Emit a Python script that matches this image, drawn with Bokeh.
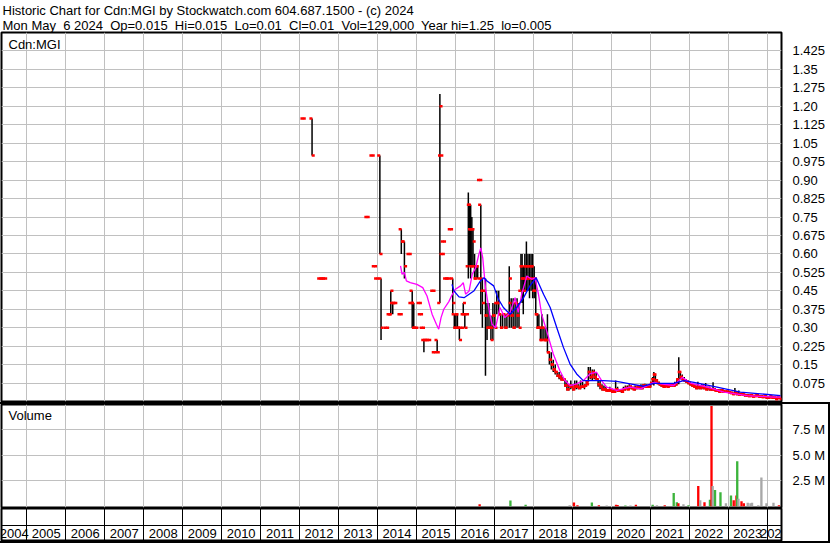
from bokeh.plotting import figure
from bokeh.models import Range1d, FixedTicker, Title, Label, ColumnDataSource
from bokeh.layouts import column
from bokeh.embed import file_html
from bokeh.resources import INLINE
from bokeh.core.properties import value

# ---------------- data ----------------
header_line1 = "Historic Chart for Cdn:MGI by Stockwatch.com 604.687.1500 - (c) 2024"
header_line2 = ("Mon May\u00a0 6 2024\u00a0 Op=0.015\u00a0 Hi=0.015\u00a0 Lo=0.01\u00a0 Cl=0.01"
                "\u00a0 Vol=129,000\u00a0 Year hi=1.25\u00a0 lo=0.005")
symbol = "Cdn:MGI"

years = list(range(2004, 2025))
year_lines = list(range(2005, 2025))

price_ticks = [0.075, 0.15, 0.225, 0.3, 0.375, 0.45, 0.525, 0.6, 0.675, 0.75,
               0.825, 0.9, 0.975, 1.05, 1.125, 1.2, 1.275, 1.35, 1.425]
price_labels = ["0.075", "0.15", "0.225", "0.30", "0.375", "0.45", "0.525", "0.60", "0.675", "0.75",
                "0.825", "0.90", "0.975", "1.05", "1.125", "1.20", "1.275", "1.35", "1.425"]
vol_ticks = [2.5e6, 5.0e6, 7.5e6]
vol_labels = ["2.5 M", "5.0 M", "7.5 M"]

bar_t = [
    2012.09, 2012.32, 2012.52, 2012.58, 2012.64, 2013.73, 2013.86, 2013.92, 2013.98,
    2014.06, 2014.09, 2014.23, 2014.30, 2014.34, 2014.39, 2014.44, 2014.58, 2014.61, 2014.69, 2014.81, 2014.86, 2014.89, 2014.93, 2014.98,
    2015.07, 2015.10, 2015.15, 2015.19, 2015.24, 2015.31, 2015.42, 2015.46, 2015.53, 2015.60, 2015.62, 2015.66, 2015.69, 2015.75, 2015.81, 2015.87, 2015.93, 2015.97,
    2016.01, 2016.05, 2016.10, 2016.15, 2016.20, 2016.24, 2016.28, 2016.33, 2016.36, 2016.39, 2016.42, 2016.45, 2016.49, 2016.53, 2016.57, 2016.62, 2016.65, 2016.69, 2016.77, 2016.81, 2016.86, 2016.91, 2016.96,
    2017.01, 2017.06, 2017.11, 2017.16, 2017.21, 2017.27, 2017.32, 2017.38, 2017.43, 2017.48, 2017.53, 2017.58, 2017.63, 2017.68, 2017.71, 2017.74, 2017.78, 2017.82, 2017.86, 2017.90, 2017.94, 2017.98,
    2018.02, 2018.06, 2018.10, 2018.14, 2018.18, 2018.22, 2018.27, 2018.32, 2018.36, 2018.41, 2018.46, 2018.51, 2018.56, 2018.61, 2018.66, 2018.71, 2018.76, 2018.81, 2018.86, 2018.91, 2018.96,
    2019.01, 2019.06, 2019.11, 2019.16, 2019.21, 2019.26, 2019.31, 2019.36, 2019.41, 2019.46, 2019.51, 2019.56, 2019.61, 2019.66, 2019.71, 2019.76, 2019.81, 2019.86, 2019.91, 2019.96,
    2020.01, 2020.06, 2020.11, 2020.16, 2020.21, 2020.26, 2020.31, 2020.36, 2020.41, 2020.46, 2020.51, 2020.56, 2020.61, 2020.66, 2020.71, 2020.76, 2020.81, 2020.86, 2020.91, 2020.96,
    2021.01, 2021.06, 2021.09, 2021.13, 2021.18, 2021.23, 2021.28, 2021.33, 2021.38, 2021.43, 2021.48, 2021.53, 2021.58, 2021.63, 2021.68, 2021.73, 2021.77, 2021.82, 2021.87, 2021.92, 2021.97,
    2022.02, 2022.07, 2022.12, 2022.17, 2022.22, 2022.27, 2022.32, 2022.37, 2022.42, 2022.47, 2022.52, 2022.57, 2022.61, 2022.66, 2022.71, 2022.76, 2022.81, 2022.86, 2022.91, 2022.96,
    2023.01, 2023.06, 2023.11, 2023.17, 2023.22, 2023.27, 2023.32, 2023.37, 2023.42, 2023.47, 2023.52, 2023.57, 2023.62, 2023.67, 2023.72, 2023.77, 2023.82, 2023.87, 2023.92, 2023.97,
    2024.02, 2024.07, 2024.12, 2024.17, 2024.22, 2024.27, 2024.32,
]
bar_open = [
    1.15, 1.15, 0.50, 0.50, 0.50, 0.75, 1.00, 0.55, 0.50,
    1.00, 0.50, 0.30, 0.355, 0.355, 0.40, 0.40, 0.355, 0.70, 0.65, 0.60, 0.40, 0.45, 0.40, 0.30,
    0.40, 0.355, 0.30, 0.25, 0.25, 0.25, 0.45, 0.20, 0.25, 0.40, 1.00, 0.60, 0.65, 0.50, 0.50, 0.70, 0.50, 0.355,
    0.30, 0.355, 0.30, 0.30, 0.355, 0.355, 0.355, 0.55, 0.80, 0.70, 0.55, 0.70, 0.55, 0.50, 0.55, 0.90, 0.80, 0.50, 0.45, 0.35, 0.30, 0.30, 0.30,
    0.35, 0.40, 0.40, 0.355, 0.30, 0.355, 0.30, 0.35, 0.40, 0.35, 0.30, 0.40, 0.35, 0.45, 0.55, 0.50, 0.50, 0.55, 0.50, 0.55, 0.50, 0.55,
    0.50, 0.45, 0.355, 0.30, 0.30, 0.25, 0.30, 0.25, 0.25, 0.20, 0.17, 0.15, 0.13, 0.12, 0.105, 0.10, 0.09, 0.09, 0.065, 0.05, 0.065,
    0.06, 0.05, 0.06, 0.06, 0.055, 0.06, 0.06, 0.065, 0.08, 0.12, 0.10, 0.11, 0.10, 0.09, 0.07, 0.06, 0.05, 0.05, 0.045, 0.045,
    0.045, 0.04, 0.045, 0.05, 0.045, 0.045, 0.045, 0.05, 0.055, 0.05, 0.06, 0.055, 0.05, 0.055, 0.06, 0.06, 0.055, 0.065, 0.06, 0.06,
    0.06, 0.075, 0.09, 0.11, 0.085, 0.075, 0.07, 0.065, 0.06, 0.065, 0.06, 0.065, 0.07, 0.065, 0.07, 0.09, 0.12, 0.10, 0.09, 0.085, 0.08,
    0.075, 0.07, 0.065, 0.06, 0.055, 0.06, 0.055, 0.06, 0.055, 0.05, 0.055, 0.05, 0.05, 0.05, 0.045, 0.045, 0.04, 0.045, 0.04, 0.04,
    0.04, 0.038, 0.035, 0.03, 0.035, 0.03, 0.028, 0.03, 0.028, 0.025, 0.025, 0.022, 0.025, 0.02, 0.022, 0.025, 0.02, 0.02, 0.018, 0.02,
    0.015, 0.015, 0.02, 0.015, 0.015, 0.01, 0.015,
]
bar_high = [
    1.15, 1.15, 0.50, 0.50, 0.50, 0.75, 1.00, 0.55, 0.50,
    1.00, 0.50, 0.30, 0.355, 0.45, 0.40, 0.40, 0.355, 0.70, 0.65, 0.60, 0.40, 0.45, 0.40, 0.30,
    0.40, 0.355, 0.30, 0.25, 0.25, 0.25, 0.45, 0.20, 0.25, 1.25, 1.00, 0.60, 0.65, 0.50, 0.50, 0.70, 0.50, 0.355,
    0.355, 0.355, 0.30, 0.30, 0.40, 0.355, 0.355, 0.85, 0.80, 0.80, 0.75, 0.70, 0.60, 0.55, 0.55, 0.90, 0.80, 0.50, 0.50, 0.40, 0.40, 0.35, 0.40,
    0.40, 0.45, 0.45, 0.355, 0.355, 0.355, 0.355, 0.55, 0.42, 0.42, 0.40, 0.42, 0.40, 0.60, 0.60, 0.55, 0.60, 0.65, 0.60, 0.60, 0.60, 0.60,
    0.55, 0.50, 0.355, 0.355, 0.30, 0.355, 0.30, 0.30, 0.355, 0.20, 0.20, 0.17, 0.15, 0.12, 0.12, 0.11, 0.10, 0.09, 0.085, 0.07, 0.085,
    0.07, 0.085, 0.085, 0.07, 0.085, 0.08, 0.07, 0.085, 0.14, 0.14, 0.13, 0.13, 0.12, 0.09, 0.085, 0.07, 0.065, 0.06, 0.05, 0.06,
    0.05, 0.05, 0.085, 0.06, 0.05, 0.05, 0.06, 0.065, 0.065, 0.07, 0.065, 0.06, 0.065, 0.06, 0.065, 0.07, 0.07, 0.072, 0.07, 0.065,
    0.08, 0.10, 0.12, 0.11, 0.09, 0.08, 0.075, 0.072, 0.07, 0.075, 0.07, 0.075, 0.072, 0.08, 0.09, 0.18, 0.12, 0.11, 0.10, 0.09, 0.085,
    0.08, 0.075, 0.07, 0.065, 0.08, 0.065, 0.07, 0.065, 0.075, 0.06, 0.06, 0.055, 0.078, 0.055, 0.05, 0.05, 0.05, 0.05, 0.045, 0.045,
    0.045, 0.04, 0.04, 0.055, 0.04, 0.045, 0.035, 0.035, 0.03, 0.03, 0.03, 0.03, 0.03, 0.025, 0.03, 0.03, 0.025, 0.025, 0.02, 0.025,
    0.02, 0.02, 0.02, 0.02, 0.02, 0.02, 0.015,
]
bar_low = [
    1.15, 1.00, 0.50, 0.50, 0.50, 0.75, 1.00, 0.55, 0.50,
    0.60, 0.25, 0.30, 0.355, 0.355, 0.355, 0.40, 0.355, 0.60, 0.50, 0.60, 0.40, 0.30, 0.30, 0.30,
    0.40, 0.355, 0.30, 0.20, 0.25, 0.25, 0.45, 0.20, 0.20, 0.40, 1.00, 0.60, 0.65, 0.50, 0.50, 0.70, 0.355, 0.30,
    0.30, 0.30, 0.25, 0.30, 0.355, 0.30, 0.355, 0.50, 0.55, 0.50, 0.55, 0.55, 0.50, 0.50, 0.50, 0.90, 0.355, 0.30, 0.105, 0.25, 0.30, 0.25, 0.25,
    0.30, 0.355, 0.355, 0.30, 0.30, 0.30, 0.30, 0.30, 0.30, 0.30, 0.30, 0.30, 0.30, 0.45, 0.40, 0.355, 0.45, 0.45, 0.45, 0.42, 0.45, 0.42,
    0.42, 0.355, 0.30, 0.30, 0.25, 0.25, 0.25, 0.25, 0.20, 0.15, 0.13, 0.12, 0.11, 0.10, 0.09, 0.085, 0.085, 0.06, 0.045, 0.045, 0.05,
    0.045, 0.05, 0.05, 0.05, 0.05, 0.055, 0.05, 0.06, 0.08, 0.09, 0.085, 0.09, 0.085, 0.06, 0.05, 0.045, 0.045, 0.045, 0.04, 0.04,
    0.04, 0.035, 0.04, 0.04, 0.04, 0.035, 0.045, 0.045, 0.05, 0.05, 0.05, 0.05, 0.045, 0.05, 0.05, 0.05, 0.05, 0.055, 0.055, 0.055,
    0.06, 0.07, 0.065, 0.08, 0.07, 0.065, 0.06, 0.058, 0.058, 0.06, 0.058, 0.06, 0.06, 0.06, 0.065, 0.07, 0.09, 0.085, 0.08, 0.075, 0.07,
    0.065, 0.06, 0.058, 0.05, 0.05, 0.05, 0.05, 0.05, 0.05, 0.045, 0.045, 0.045, 0.045, 0.045, 0.04, 0.04, 0.038, 0.04, 0.035, 0.038,
    0.035, 0.03, 0.03, 0.03, 0.025, 0.025, 0.025, 0.025, 0.02, 0.02, 0.02, 0.02, 0.02, 0.018, 0.02, 0.02, 0.015, 0.015, 0.015, 0.015,
    0.01, 0.015, 0.015, 0.01, 0.01, 0.01, 0.01,
]
bar_close = [
    1.15, 1.00, 0.50, 0.50, 0.50, 0.75, 1.00, 0.55, 0.50,
    0.60, 0.30, 0.30, 0.355, 0.45, 0.40, 0.40, 0.355, 0.65, 0.55, 0.60, 0.40, 0.30, 0.30, 0.30,
    0.40, 0.355, 0.30, 0.25, 0.25, 0.25, 0.45, 0.20, 0.20, 1.20, 1.00, 0.60, 0.65, 0.50, 0.50, 0.70, 0.40, 0.30,
    0.355, 0.30, 0.25, 0.30, 0.40, 0.30, 0.355, 0.80, 0.70, 0.55, 0.70, 0.65, 0.50, 0.55, 0.50, 0.90, 0.45, 0.40, 0.35, 0.30, 0.30, 0.25, 0.35,
    0.30, 0.40, 0.355, 0.30, 0.355, 0.30, 0.355, 0.50, 0.35, 0.30, 0.40, 0.35, 0.30, 0.55, 0.50, 0.45, 0.55, 0.50, 0.55, 0.50, 0.55, 0.45,
    0.50, 0.355, 0.30, 0.30, 0.25, 0.30, 0.25, 0.25, 0.20, 0.17, 0.15, 0.13, 0.12, 0.105, 0.10, 0.09, 0.09, 0.065, 0.05, 0.065, 0.06,
    0.05, 0.065, 0.06, 0.055, 0.06, 0.06, 0.065, 0.07, 0.12, 0.10, 0.12, 0.10, 0.09, 0.07, 0.06, 0.05, 0.05, 0.045, 0.045, 0.05,
    0.04, 0.04, 0.05, 0.045, 0.045, 0.04, 0.05, 0.055, 0.05, 0.06, 0.055, 0.05, 0.055, 0.06, 0.055, 0.055, 0.065, 0.06, 0.06, 0.06,
    0.075, 0.09, 0.11, 0.085, 0.075, 0.07, 0.065, 0.06, 0.065, 0.06, 0.065, 0.07, 0.065, 0.07, 0.085, 0.12, 0.10, 0.09, 0.085, 0.08, 0.075,
    0.07, 0.065, 0.06, 0.055, 0.06, 0.055, 0.06, 0.055, 0.05, 0.055, 0.05, 0.05, 0.05, 0.045, 0.045, 0.04, 0.045, 0.04, 0.04, 0.04,
    0.038, 0.035, 0.03, 0.035, 0.03, 0.028, 0.03, 0.028, 0.025, 0.025, 0.022, 0.025, 0.02, 0.022, 0.025, 0.02, 0.02, 0.018, 0.02, 0.015,
    0.015, 0.02, 0.015, 0.015, 0.01, 0.015, 0.01,
]

# moving averages as drawn (magenta = short, blue = long)
ma_short_t = [2014.59, 2014.63, 2014.69, 2014.74, 2014.84, 2015.01, 2015.16, 2015.27, 2015.40, 2015.51,
              2015.57, 2015.63, 2015.70, 2015.83, 2015.91, 2016.00, 2016.13, 2016.20, 2016.26, 2016.35,
              2016.43, 2016.52, 2016.60, 2016.65, 2016.70, 2016.77, 2016.88, 2016.94, 2017.03, 2017.14,
              2017.27, 2017.40, 2017.53, 2017.61, 2017.70, 2017.83, 2017.96, 2018.04, 2018.13, 2018.21,
              2018.34, 2018.51, 2018.68, 2018.81, 2018.94, 2019.11, 2019.28, 2019.45, 2019.62, 2019.75,
              2019.88, 2020.14, 2020.48, 2020.75, 2021.09, 2021.26, 2021.60, 2021.82, 2022.03, 2022.46,
              2022.89, 2023.48, 2024.17, 2024.34]
ma_short_v = [0.551, 0.517, 0.525, 0.49, 0.483, 0.476, 0.463, 0.429, 0.355, 0.314,
              0.294, 0.341, 0.375, 0.406, 0.433, 0.456, 0.47, 0.483, 0.436, 0.449,
              0.517, 0.544, 0.598, 0.624, 0.584, 0.463, 0.355, 0.314, 0.30, 0.382,
              0.341, 0.362, 0.422, 0.362, 0.436, 0.51, 0.497, 0.503, 0.436, 0.355,
              0.287, 0.193, 0.125, 0.085, 0.065, 0.072, 0.085, 0.112, 0.119, 0.085,
              0.058, 0.045, 0.058, 0.051, 0.078, 0.072, 0.065, 0.098, 0.075, 0.058,
              0.038, 0.024, 0.018, 0.018]
ma_long_t = [2015.91, 2015.96, 2016.09, 2016.22, 2016.35, 2016.47, 2016.64, 2016.73, 2016.81, 2016.98,
             2017.10, 2017.23, 2017.40, 2017.57, 2017.74, 2017.91, 2018.07, 2018.26, 2018.43, 2018.60,
             2018.77, 2018.94, 2019.11, 2019.28, 2019.80, 2020.14, 2020.48, 2020.82, 2021.09, 2021.60,
             2021.86, 2022.12, 2022.71, 2023.31, 2023.83, 2024.34]
ma_long_v = [0.476, 0.45, 0.425, 0.422, 0.436, 0.449, 0.49, 0.503, 0.49, 0.47,
             0.416, 0.382, 0.355, 0.382, 0.42, 0.47, 0.503, 0.436, 0.382, 0.30,
             0.22, 0.152, 0.112, 0.085, 0.085, 0.082, 0.072, 0.062, 0.074, 0.074,
             0.085, 0.078, 0.058, 0.038, 0.031, 0.024]

vol_t = [2016.62, 2017.41, 2017.80, 2018.93, 2019.04, 2019.13, 2019.50, 2019.68, 2019.88, 2020.12,
         2020.16, 2020.36, 2020.49, 2020.63, 2021.06, 2021.17, 2021.37, 2021.60, 2021.68, 2021.72,
         2021.85, 2021.98, 2022.23, 2022.28, 2022.39, 2022.53, 2022.57, 2022.60, 2022.66, 2022.80,
         2022.94, 2023.07, 2023.14, 2023.21, 2023.23, 2023.26, 2023.34, 2023.40, 2023.50, 2023.57,
         2023.61, 2023.77, 2023.85, 2023.98, 2024.16, 2024.30]
vol_m = [0.2, 0.56, 0.15, 0.1, 0.37, 0.1, 0.37, 0.1, 0.08, 0.15,
         0.12, 0.08, 0.08, 0.15, 0.15, 0.1, 0.1, 1.3, 0.4, 0.3,
         0.2, 0.1, 2.0, 0.6, 0.4, 0.63, 9.86, 2.0, 1.6, 1.37,
         0.3, 1.05, 0.6, 1.05, 4.43, 0.75, 0.5, 0.3, 0.35, 0.3,
         0.35, 0.1, 2.82, 0.3, 0.35, 0.1]
vol_dir = ["down", "up", "up", "flat", "down", "down", "up", "down", "flat", "down",
           "down", "up", "flat", "down", "up", "flat", "down", "up", "up", "down",
           "flat", "up", "down", "flat", "down", "up", "down", "flat", "up", "up",
           "flat", "up", "down", "down", "up", "flat", "down", "down", "flat", "flat",
           "flat", "flat", "flat", "flat", "flat", "down"]

# ---------------- styling / layout ----------------
FONT = "Liberation Sans"
FS = "13px"
GRID = "#c0c0c0"
X0, X1 = 2004.351, 2024.366
dir_color = {"up": "#3cb43c", "down": "#ff0000", "flat": "#a8a8a8"}


def base_fig(width, height, y_range, right, top=0, bottom=0, yaxis="right", x_range=None):
    f = figure(width=width, height=height,
               x_range=x_range if x_range is not None else Range1d(X0, X1),
               y_range=y_range, x_axis_location=None, y_axis_location=yaxis,
               output_backend="svg", toolbar_location=None, title=None,
               min_border_left=1, min_border_right=right,
               min_border_top=top, min_border_bottom=bottom)
    f.outline_line_color = "black"
    f.outline_line_width = 2
    f.background_fill_color = "white"
    f.border_fill_color = "white"
    f.grid.grid_line_color = GRID
    f.grid.grid_line_width = 1
    f.xgrid.ticker = FixedTicker(ticks=year_lines)
    return f


def style_right_axis(f, ticks, labels):
    ax = f.yaxis[0]
    ax.ticker = FixedTicker(ticks=ticks, minor_ticks=[])
    ax.major_label_overrides = {t: s for t, s in zip(ticks, labels)}
    ax.major_tick_line_color = None
    ax.minor_tick_line_color = None
    ax.axis_line_color = None
    ax.major_label_standoff = 5
    ax.major_label_text_font = FONT
    ax.major_label_text_font_size = FS
    ax.major_label_text_color = "black"
    f.ygrid.ticker = FixedTicker(ticks=ticks)


# ---- price panel ----
p = base_fig(830, 402, Range1d(0, 1.5), right=49, top=0, bottom=1)
p.add_layout(Title(text=header_line1 + "\n" + header_line2, align="left", offset=1, standoff=0,
                   text_font=FONT, text_font_size=FS, text_line_height=1.0,
                   text_font_style="normal", text_color="black"), "above")
style_right_axis(p, price_ticks, price_labels)

src = ColumnDataSource(dict(t=bar_t, o=bar_open, h=bar_high, l=bar_low, c=bar_close,
                            to=[t - 0.03 for t in bar_t], tc=[t + 0.03 for t in bar_t]))
p.segment(x0="t", y0="l", x1="t", y1="h", source=src, line_color="black", line_width=1.5)
p.rect(x="to", y="o", width=3, height=2.5, width_units="screen", height_units="screen",
       source=src, fill_color="#ff0000", line_color=None)
p.rect(x="tc", y="c", width=3, height=2.5, width_units="screen", height_units="screen",
       source=src, fill_color="#ff0000", line_color=None)
p.line(ma_short_t, ma_short_v, line_color="#ff00ff", line_width=1.3)
p.line(ma_long_t, ma_long_v, line_color="#0000ff", line_width=1.3)
p.add_layout(Label(x=X0, y=1.5, x_offset=7, y_offset=-4, text=symbol, text_baseline="top",
                   text_font=FONT, text_font_size=FS, text_color="black"))

# ---- volume panel ----
v = base_fig(828, 104, Range1d(-0.12e6, 10.0e6), right=47, top=0, bottom=1, x_range=p.x_range)
style_right_axis(v, vol_ticks, vol_labels)
vsrc = ColumnDataSource(dict(t=vol_t, v=[m * 1e6 for m in vol_m],
                             col=[dir_color[d] for d in vol_dir]))
v.vbar(x="t", top="v", bottom=0, width=0.06, source=vsrc, fill_color="col", line_color=None)
v.add_layout(Label(x=X0, y=10.0e6, x_offset=7, y_offset=-3, text="Volume", text_baseline="top",
                   text_font=FONT, text_font_size=FS, text_color="black"))

# ---- year strip: empty row + label row, separated at the year boundaries ----
s = base_fig(828, 33, Range1d(0, 2), right=47, top=0, bottom=0, yaxis=None, x_range=p.x_range)
s.xgrid.grid_line_color = "black"
s.ygrid.ticker = FixedTicker(ticks=[1])
s.ygrid.grid_line_color = "black"
label_x = [(max(y, X0) + min(y + 1, X1)) / 2 for y in years]
s.text(x=label_x, y=[0.5] * len(years), text=[str(y) for y in years],
       text_align="center", text_baseline="middle",
       text_font=value(FONT), text_font_size=FS, text_color="black")

lower = column(v, s, spacing=0,
               styles={"border-top": "2px solid black", "border-right": "2px solid black",
                       "border-bottom": "2px solid black"})
layout = column(p, lower, spacing=0)
open("out.html", "w").write(file_html(layout, INLINE))
